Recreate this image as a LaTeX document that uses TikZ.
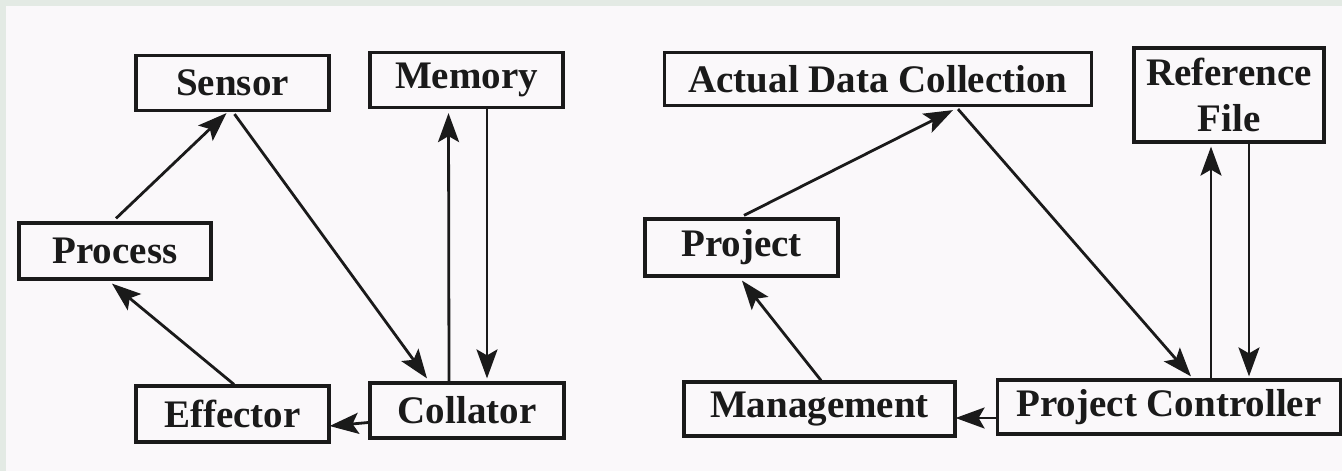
\documentclass[tikz,border=0pt]{standalone}
\usepackage{fontspec}
\setmainfont{Liberation Serif}
\usetikzlibrary{arrows.meta}
\definecolor{paper}{HTML}{FAF8FA}
\definecolor{edge}{HTML}{E3EAE4}
\definecolor{ink}{HTML}{1A1A1A}
\tikzset{
  box/.style={draw=ink, line width=3.2pt, fill=paper, inner sep=0pt,
    font=\bfseries\fontsize{39}{46}\selectfont, text=ink, align=center},
  arr/.style={draw=ink, line width=2.8pt,
    -{Stealth[length=29pt, width=21pt, inset=6pt]}}
}
\begin{document}
\begin{tikzpicture}[x=1pt, y=-1pt]
  % page background with the scanned edge strips
  \fill[paper] (0,0) rectangle (1342,471);
  \fill[edge] (0,0) rectangle (1342,6);
  \fill[edge] (0,0) rectangle (6,471);
  \useasboundingbox (0,0) rectangle (1342,471);

  % left loop
  \node[box, minimum width=193pt, minimum height=55pt] (sensor)   at (232.5,83)  {Sensor};
  \node[box, minimum width=193pt, minimum height=55pt] (memory)   at (466.5,80)  {Memory};
  \node[box, minimum width=192pt, minimum height=56pt] (process)  at (115,251)   {Process};
  \node[box, minimum width=193pt, minimum height=56pt] (effector) at (232.5,414) {Effector};
  \node[box, minimum width=194pt, minimum height=55pt] (collator) at (467,410.5) {Collator};

  \draw[arr] ([xshift=1pt,yshift=3pt]process.north) -- ([xshift=-6pt,yshift=-1pt]sensor.south);
  \draw[arr] ([xshift=2pt,yshift=-2pt]sensor.south) -- ([xshift=-40pt,yshift=3pt]collator.north);
  \draw[arr] ([xshift=-18pt]collator.north) -- ([xshift=-18pt,yshift=-4pt]memory.south);
  \draw[arr] ([xshift=20.5pt]memory.south) -- ([xshift=20pt,yshift=3pt]collator.north);
  \draw[arr] ([xshift=1.5pt]effector.north) -- ([xshift=-3pt,yshift=-3pt]process.south);
  \draw[arr] ([yshift=-12pt]collator.west) -- ([xshift=-1pt,yshift=-12pt]effector.east);

  % right loop
  \node[box, minimum width=427pt, minimum height=53pt] (adc)     at (878,79)    {Actual Data Collection};
  \node[box, minimum width=190pt, minimum height=94pt] (reffile) at (1229,95)   {Reference\\File};
  \node[box, minimum width=193pt, minimum height=57pt] (project) at (741.5,247.5) {Project};
  \node[box, minimum width=271pt, minimum height=54pt] (mgmt)    at (819.5,409) {Management};
  \node[box, minimum width=343pt, minimum height=54pt] (pc)      at (1169,407)  {Project Controller};

  \draw[arr] ([xshift=2.5pt,yshift=2pt]project.north) -- ([xshift=75pt,yshift=-3pt]adc.south);
  \draw[arr] ([xshift=80pt,yshift=-2pt]adc.south) -- ([xshift=22pt,yshift=2pt]pc.north);
  \draw[arr] ([xshift=42pt]pc.north) -- ([xshift=-18pt,yshift=-3pt]reffile.south);
  \draw[arr] ([xshift=20pt]reffile.south) -- ([xshift=80pt,yshift=2pt]pc.north);
  \draw[arr] ([xshift=1.5pt]mgmt.north) -- ([xshift=0.5pt,yshift=-3pt]project.south);
  \draw[arr] ([yshift=-11pt]pc.west) -- ([xshift=-1pt,yshift=-9pt]mgmt.east);
\end{tikzpicture}
\end{document}
